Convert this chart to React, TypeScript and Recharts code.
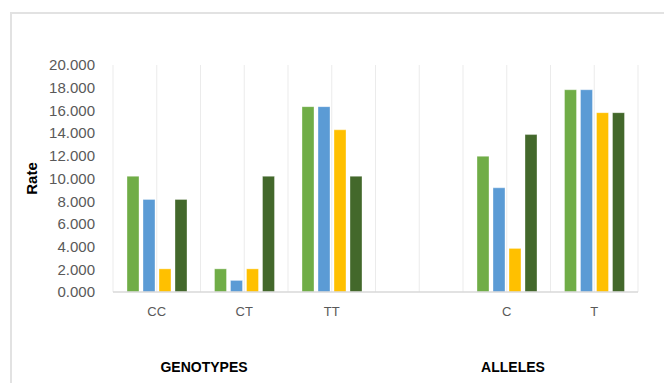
import React from 'react';
import { BarChart, Bar, XAxis, YAxis, CartesianGrid } from 'recharts';

// categories: genotypes, a spacer, then alleles
const CATEGORIES = ['CC', 'CT', 'TT', '', 'C', 'T'];

// four series, one value per category (null = spacer)
const SERIES_1 = [10.2, 2.04, 16.33, null, 11.96, 17.82];
const SERIES_2 = [8.16, 1.02, 16.33, null, 9.18, 17.82];
const SERIES_3 = [2.04, 2.04, 14.29, null, 3.84, 15.8];
const SERIES_4 = [8.16, 10.2, 10.2, null, 13.87, 15.8];

const Y_TICKS = [0, 2, 4, 6, 8, 10, 12, 14, 16, 18, 20];

const COLORS = ['#70AD47', '#5B9BD5', '#FFC000', '#43682B'];

const data = CATEGORIES.map((name, i) => ({
    name,
    s1: SERIES_1[i],
    s2: SERIES_2[i],
    s3: SERIES_3[i],
    s4: SERIES_4[i],
}));

const FONT = '"Liberation Sans", Arial, sans-serif';

// vertical grid every half category, edges included
const halfCategoryLines = ({ offset }: any) => {
    const steps = CATEGORIES.length * 2;
    const lines: number[] = [];
    for (let i = 0; i <= steps; i++) {
        lines.push(offset.left + (offset.width * i) / steps);
    }
    return lines;
};

export default function App() {
    return (
        <div style={{ position: 'absolute', left: 0, top: 0, width: 664, height: 383, overflow: 'hidden', background: '#fff' }}>
            <div
                style={{
                    position: 'absolute',
                    left: 10,
                    top: 12,
                    width: 700,
                    height: 420,
                    border: '2px solid #E2E2E2',
                    boxSizing: 'border-box',
                }}
            />
            <div style={{ position: 'absolute', left: 0, top: 0 }}>
                <BarChart
                    width={664}
                    height={383}
                    data={data}
                    margin={{ top: 65, right: 26, left: 23, bottom: 61 }}
                    barSize={12}
                    barGap={4}
                >
                    <CartesianGrid
                        horizontal={false}
                        stroke="#EBEBEB"
                        verticalCoordinatesGenerator={halfCategoryLines}
                    />
                    <XAxis
                        dataKey="name"
                        height={30}
                        axisLine={{ stroke: '#D9D9D9', strokeWidth: 1.5 }}
                        tickLine={false}
                        tickSize={0}
                        tickMargin={15}
                        interval={0}
                        tick={{ fill: '#595959', fontSize: 13, fontFamily: FONT }}
                    />
                    <YAxis
                        width={90}
                        domain={[0, 20]}
                        ticks={Y_TICKS}
                        interval={0}
                        axisLine={false}
                        tickLine={false}
                        tickSize={0}
                        tickMargin={18}
                        tickFormatter={(v: number) => v.toFixed(3)}
                        tick={{ fill: '#595959', fontSize: 15, fontFamily: FONT }}
                        label={{
                            value: 'Rate',
                            angle: -90,
                            position: 'insideLeft',
                            offset: 9,
                            style: { fill: '#000', fontSize: 15, fontWeight: 'bold', fontFamily: FONT, textAnchor: 'middle' },
                        }}
                    />
                    {['s1', 's2', 's3', 's4'].map((key, i) => (
                        <Bar
                            key={key}
                            dataKey={key}
                            fill={COLORS[i]}
                            stroke="#ffffff"
                            strokeOpacity={0.35}
                            isAnimationActive={false}
                        />
                    ))}
                </BarChart>
            </div>
            <div style={{ position: 'absolute', left: 204, top: 367, transform: 'translate(-50%, -50%)', fontFamily: FONT, fontWeight: 'bold', fontSize: 14, color: '#000', whiteSpace: 'nowrap' }}>
                GENOTYPES
            </div>
            <div style={{ position: 'absolute', left: 513, top: 367, transform: 'translate(-50%, -50%)', fontFamily: FONT, fontWeight: 'bold', fontSize: 14, color: '#000', whiteSpace: 'nowrap' }}>
                ALLELES
            </div>
        </div>
    );
}
